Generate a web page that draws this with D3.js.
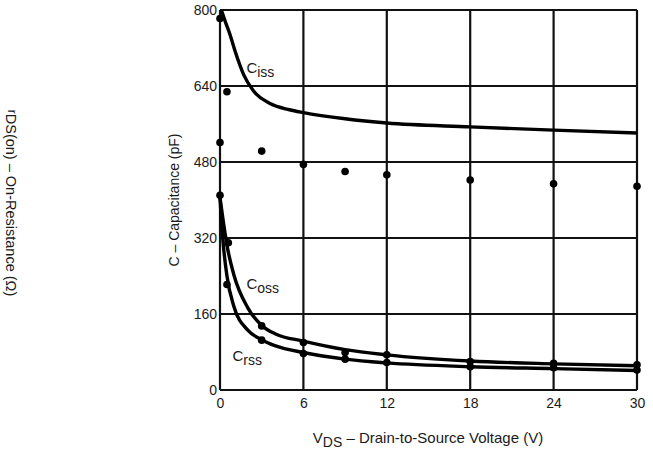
<!DOCTYPE html>
<html>
<head>
<meta charset="utf-8">
<script src="https://cdn.jsdelivr.net/npm/d3@7"></script>
<style>
  body { margin: 0; background: #fff; }
  text { font-family: "Liberation Sans", Arial, sans-serif; fill: #1a1a1a; }
</style>
</head>
<body>
<div id="chart"></div>
<script>
// capacitance curves (V, pF)
const cissCurve = [[0.1, 800], [0.4, 774], [0.7, 750], [1.1, 712], [1.7, 664], [2.4, 630], [3.6, 603], [5, 590], [6, 584], [9, 571], [12, 562], [18, 554], [24, 547], [30, 541]];
const cossCurve = [[0, 405], [0.25, 352], [0.5, 305], [1, 242], [2, 173], [3, 136], [4, 118], [6, 103], [9, 85], [12, 74], [18, 61], [24, 55], [30, 51]];
const crssCurve = [[0, 405], [0.2, 318], [0.5, 240], [1, 176], [2, 126], [3, 106], [4, 93], [6, 79], [9, 65], [12, 57], [18, 49], [24, 45], [30, 41]];

// measured points
const rdsDots = [[0, 782], [0.5, 628], [0, 521], [3, 503], [6, 475], [9, 460], [12, 453], [18, 442], [24, 434], [30, 429], [0, 410]];
const cossDots = [[0.6, 310], [3, 135], [6, 100], [9, 79], [12, 74], [18, 60], [24, 56], [30, 53]];
const crssDots = [[0.5, 222], [3, 105], [6, 77], [9, 65], [12, 58], [18, 49], [24, 47], [30, 42]];

const xTicks = [0, 6, 12, 18, 24, 30];
const yTicks = [0, 160, 320, 480, 640, 800];

const W = 653, H = 457;
const m = { left: 220, right: 16, top: 10, bottom: 67 };

const svg = d3.select('#chart').append('svg')
    .attr('width', W).attr('height', H);

const x = d3.scaleLinear().domain([0, 30]).range([m.left, W - m.right]);
const y = d3.scaleLinear().domain([0, 800]).range([H - m.bottom, m.top]);

// grid
const grid = svg.append('g').attr('stroke', '#111').attr('stroke-width', 2.2);
grid.selectAll('.gx').data(xTicks).join('line')
    .attr('x1', d => x(d)).attr('x2', d => x(d))
    .attr('y1', y(0)).attr('y2', y(800));
grid.selectAll('.gy').data(yTicks).join('line')
    .attr('y1', d => y(d)).attr('y2', d => y(d))
    .attr('x1', x(0)).attr('x2', x(30));

// axes (labels only)
const xAxis = svg.append('g')
    .attr('transform', `translate(0,${y(0)})`)
    .call(d3.axisBottom(x).tickValues(xTicks).tickSize(0).tickPadding(8));
const yAxis = svg.append('g')
    .attr('transform', `translate(${x(0)},0)`)
    .call(d3.axisLeft(y).tickValues(yTicks).tickSize(0).tickPadding(3));
[xAxis, yAxis].forEach(a => {
    a.select('.domain').remove();
    a.selectAll('text').attr('font-size', 14).attr('font-family', '"Liberation Sans", Arial, sans-serif').attr('fill', '#1a1a1a');
});

// curves
const line = d3.line().x(d => x(d[0])).y(d => y(d[1])).curve(d3.curveMonotoneX);
svg.selectAll('.curve').data([cissCurve, cossCurve, crssCurve]).join('path')
    .attr('d', line)
    .attr('fill', 'none')
    .attr('stroke', '#000')
    .attr('stroke-width', 3.4);

// dots
svg.selectAll('.dot').data([...rdsDots, ...cossDots, ...crssDots]).join('circle')
    .attr('cx', d => x(d[0])).attr('cy', d => y(d[1]))
    .attr('r', 3.8).attr('fill', '#000');

// curve labels
function subLabel(px, py, main, sub) {
    const t = svg.append('text').attr('x', px).attr('y', py).attr('font-size', 15);
    t.append('tspan').text(main);
    t.append('tspan').attr('dy', 4).attr('font-size', 14).text(sub);
}
subLabel(x(1.9), y(667), 'C', 'iss');
subLabel(x(1.9), y(212), 'C', 'oss');
subLabel(x(0.9), y(62), 'C', 'rss');

// axis titles
const xt = svg.append('text')
    .attr('x', 428).attr('y', 443)
    .attr('text-anchor', 'middle').attr('font-size', 15);
xt.append('tspan').text('V');
xt.append('tspan').attr('dy', 4).attr('font-size', 14).text('DS');
xt.append('tspan').attr('dy', -4).text(' – Drain-to-Source Voltage (V)');

svg.append('text')
    .attr('transform', `translate(179,${y(400)}) rotate(-90)`)
    .attr('text-anchor', 'middle').attr('font-size', 14)
    .text('C – Capacitance (pF)');

const rt = svg.append('text')
    .attr('transform', 'translate(6,203) rotate(90)')
    .attr('text-anchor', 'middle').attr('font-size', 14.5);
rt.append('tspan').attr('font-size', 12).attr('dy', -2).text('r');
rt.append('tspan').attr('dy', 2).text('DS(on) – On-Resistance (Ω)');
</script>
</body>
</html>
